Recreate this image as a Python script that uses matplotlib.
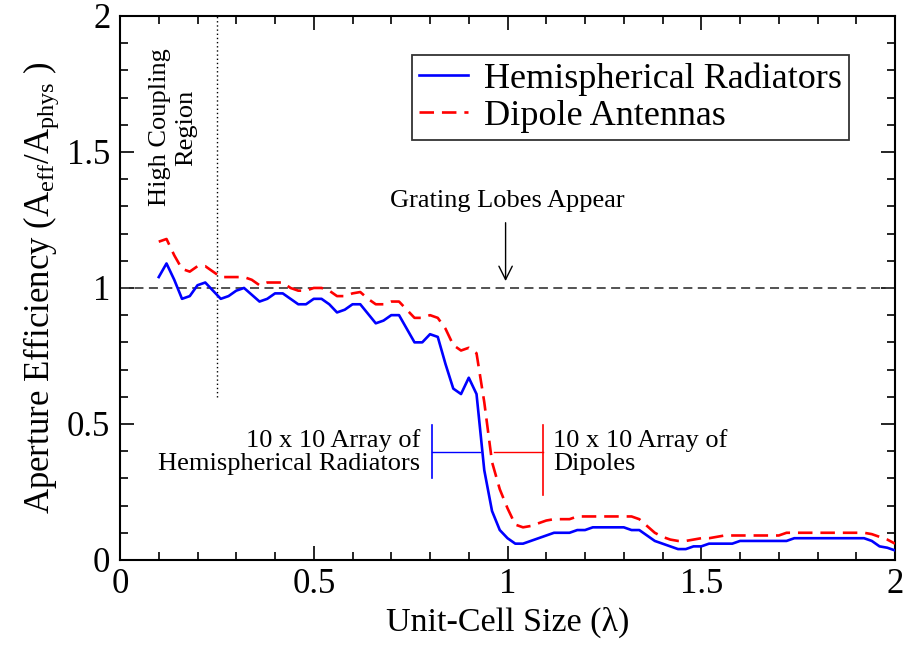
import numpy as np
import matplotlib.pyplot as plt
from matplotlib.ticker import MultipleLocator, FuncFormatter

plt.rcParams['font.family'] = ['Liberation Serif', 'DejaVu Serif']
plt.rcParams['mathtext.fontset'] = 'custom'
plt.rcParams['mathtext.rm'] = 'Liberation Serif'
plt.rcParams['mathtext.it'] = 'Liberation Serif:italic'

# unit-cell size in wavelengths, sampled every 0.02
cell_size = np.round(np.arange(0.10, 2.001, 0.02), 2)

hemispherical = [
    1.04, 1.09, 1.03, 0.96, 0.97, 1.01, 1.02, 0.99, 0.96, 0.97,
    0.99, 1.00, 0.975, 0.95, 0.96, 0.98, 0.98, 0.96, 0.94, 0.94,
    0.96, 0.96, 0.94, 0.91, 0.92, 0.94, 0.94, 0.905, 0.87, 0.88,
    0.90, 0.90, 0.85, 0.80, 0.80, 0.83, 0.82, 0.72, 0.63, 0.61,
    0.67, 0.61, 0.33, 0.18, 0.11, 0.08, 0.06, 0.06, 0.07, 0.08,
    0.09, 0.10, 0.10, 0.10, 0.11, 0.11, 0.12, 0.12, 0.12, 0.12,
    0.12, 0.11, 0.11, 0.09, 0.07, 0.06, 0.05, 0.04, 0.04, 0.05,
    0.05, 0.06, 0.06, 0.06, 0.06, 0.07, 0.07, 0.07, 0.07, 0.07,
    0.07, 0.07, 0.08, 0.08, 0.08, 0.08, 0.08, 0.08, 0.08, 0.08,
    0.08, 0.08, 0.07, 0.05, 0.045, 0.035,
]

dipoles = [
    1.17, 1.18, 1.12, 1.07, 1.06, 1.08, 1.08, 1.06, 1.04, 1.04,
    1.04, 1.04, 1.03, 1.01, 1.02, 1.02, 1.02, 1.00, 0.99, 0.99,
    1.00, 1.00, 0.99, 0.97, 0.97, 0.98, 0.985, 0.96, 0.94, 0.94,
    0.95, 0.95, 0.92, 0.89, 0.89, 0.90, 0.89, 0.85, 0.79, 0.77,
    0.78, 0.76, 0.58, 0.36, 0.26, 0.19, 0.13, 0.12, 0.125, 0.135,
    0.145, 0.15, 0.15, 0.15, 0.16, 0.16, 0.16, 0.16, 0.16, 0.16,
    0.16, 0.16, 0.15, 0.125, 0.10, 0.085, 0.075, 0.07, 0.07, 0.075,
    0.08, 0.08, 0.085, 0.09, 0.09, 0.09, 0.09, 0.09, 0.09, 0.09,
    0.09, 0.10, 0.10, 0.10, 0.10, 0.10, 0.10, 0.10, 0.10, 0.10,
    0.10, 0.10, 0.095, 0.085, 0.075, 0.06,
]

fig = plt.figure(figsize=(9.05, 6.5), dpi=100)
ax = fig.add_axes([0.1326, 0.1385, 0.8564, 0.837])

ax.plot(cell_size, hemispherical, color='#0000ff', lw=1.9,
        label='Hemispherical Radiators', zorder=4)
ax.plot(cell_size, dipoles, color='#ff0000', lw=1.9, ls=(0, (5.5, 3)),
        label='Dipole Antennas', zorder=3)

# reference lines
ax.axhline(1.0, color='#444444', lw=1.3, ls=(0, (5, 3)), zorder=2)
ax.plot([0.25, 0.25], [0.6, 2.0], color='black', lw=1.0, ls=(0, (1, 2)))

ax.text(0.137, 1.59, 'High Coupling\nRegion', rotation=90, ha='center',
        va='center', fontsize=19, linespacing=1.2)

ax.text(1.0, 1.32, 'Grating Lobes Appear', ha='center', va='center', fontsize=19)
ax.annotate('', xy=(0.995, 1.015), xytext=(0.995, 1.25),
            arrowprops=dict(arrowstyle='->', color='black', lw=1.0,
                            mutation_scale=24))

# series labels with brackets
ax.plot([0.805, 0.805], [0.30, 0.495], color='#0000ff', lw=1.2)
ax.plot([0.805, 0.93], [0.397, 0.397], color='#0000ff', lw=1.0)
ax.text(0.774, 0.397, '10 x 10 Array of\nHemispherical Radiators', ha='right',
        va='center', fontsize=19, linespacing=1.1)

ax.plot([1.092, 1.092], [0.24, 0.495], color='#ff0000', lw=1.2)
ax.plot([0.965, 1.092], [0.397, 0.397], color='#ff0000', lw=1.0)
ax.text(1.117, 0.397, '10 x 10 Array of\nDipoles', ha='left',
        va='center', fontsize=19, linespacing=1.1)

ax.set_xlim(0, 2)
ax.set_ylim(0, 2)
ax.xaxis.set_major_locator(MultipleLocator(0.5))
ax.xaxis.set_minor_locator(MultipleLocator(0.1))
ax.yaxis.set_major_locator(MultipleLocator(0.5))
ax.yaxis.set_minor_locator(MultipleLocator(0.1))
ax.xaxis.set_major_formatter(FuncFormatter(lambda v, p: f'{v:g}'))
ax.yaxis.set_major_formatter(FuncFormatter(lambda v, p: f'{v:g}'))
ax.tick_params(which='both', direction='in', top=True, right=True,
               labelsize=25, width=1.2)
ax.tick_params(which='major', length=10)
ax.tick_params(axis='x', which='major', pad=6)
ax.tick_params(axis='y', which='major', pad=7)
ax.tick_params(which='minor', length=6)
for s in ax.spines.values():
    s.set_linewidth(1.5)

ax.set_xlabel('Unit-Cell Size (λ)', fontsize=24.5, labelpad=4)
ax.set_ylabel(r'Aperture Efficiency (A$_{\mathrm{eff}}$/A$_{\mathrm{phys}}$ )',
              fontsize=25, labelpad=4)

leg = ax.legend(loc='upper right', bbox_to_anchor=(0.9406, 0.928),
                borderaxespad=0, fontsize=26, frameon=True, fancybox=False,
                handlelength=1.35, borderpad=0.2, labelspacing=0.1,
                handletextpad=0.45)
leg.get_frame().set_edgecolor('black')
leg.get_frame().set_linewidth(1.3)

fig.savefig('out.png', dpi=100)
